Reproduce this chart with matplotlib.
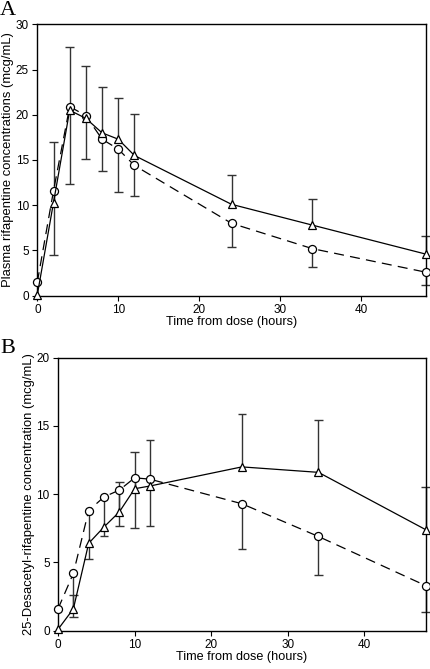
import numpy as np
import matplotlib
matplotlib.use('Agg')
import matplotlib.pyplot as plt

# Sampling times (hours)
times = [0, 2, 4, 6, 8, 10, 12, 24, 34, 48]

# Panel A: plasma rifapentine (mcg/mL)
rpt_tri = [0.1, 10.3, 20.5, 19.6, 18.0, 17.3, 15.5, 10.1, 7.8, 4.6]
rpt_tri_upper = [np.nan, 17.0, 27.5, 25.4, 23.1, 21.9, 20.1, 13.3, 10.7, 6.6]
rpt_circ = [1.5, 11.6, 20.9, 19.9, 17.3, 16.2, 14.4, 8.0, 5.2, 2.6]
rpt_circ_lower = [np.nan, 4.5, 12.4, 15.1, 13.8, 11.5, 11.0, 5.4, 3.2, 1.2]

# Panel B: 25-desacetyl-rifapentine (mcg/mL)
des_tri = [0.1, 1.6, 6.4, 7.6, 8.7, 10.4, 10.6, 12.0, 11.6, 7.4]
des_tri_upper = [np.nan, 2.6, np.nan, np.nan, 10.9, 13.1, 14.0, 15.9, 15.4, 10.5]
des_circ = [1.6, 4.2, 8.8, 9.8, 10.3, 11.2, 11.1, 9.3, 6.9, 3.3]
des_circ_lower = [np.nan, 1.0, 5.25, 6.9, 7.7, 7.5, 7.7, 6.0, 4.1, 1.4]

plt.rcParams['font.family'] = ['Liberation Sans', 'DejaVu Sans']

fig = plt.figure(figsize=(4.30, 6.69), dpi=100)
axA = fig.add_axes([0.0868, 0.558, 0.9032, 0.4057])
axB = fig.add_axes([0.135, 0.0573, 0.855, 0.408])

bar_color = '#333333'


def draw_bars(ax, x, y, ends):
    # one-sided error bars from each point to its end value
    x = np.array(x, dtype=float)
    y = np.array(y, dtype=float)
    ends = np.array(ends, dtype=float)
    ok = ~np.isnan(ends)
    ax.vlines(x[ok], y[ok], ends[ok], color=bar_color, lw=1.0, zorder=2, clip_on=False)
    ax.hlines(ends[ok], x[ok] - 0.55, x[ok] + 0.55, color=bar_color, lw=1.0, zorder=2, clip_on=False)


def draw_panel(ax, tri, tri_up, circ, circ_lo, ymax, ylabel):
    draw_bars(ax, times, tri, tri_up)
    draw_bars(ax, times, circ, circ_lo)
    ax.plot(times, circ, color='black', lw=0.9, dashes=(8, 5), marker='o',
            markersize=5.8, markerfacecolor='white', markeredgecolor='black',
            markeredgewidth=0.9, zorder=3, clip_on=False)
    ax.plot(times, tri, color='black', lw=0.9, marker='^',
            markersize=5.2, markerfacecolor='white', markeredgecolor='black',
            markeredgewidth=0.9, zorder=4, clip_on=False)
    ax.set_xlim(0, 48)
    ax.set_ylim(0, ymax)
    ax.set_xticks([0, 10, 20, 30, 40])
    ax.set_yticks(np.arange(0, ymax + 1, 5))
    ax.tick_params(direction='out', length=3.5, width=0.8, labelsize=8.5, pad=2.5)
    for s in ax.spines.values():
        s.set_linewidth(1.0)
    ax.set_xlabel('Time from dose (hours)', fontsize=9.1, labelpad=0)
    ax.set_ylabel(ylabel, fontsize=9.4, labelpad=1)


draw_panel(axA, rpt_tri, rpt_tri_upper, rpt_circ, rpt_circ_lower, 30,
           'Plasma rifapentine concentrations (mcg/mL)')
draw_panel(axB, des_tri, des_tri_upper, des_circ, des_circ_lower, 20,
           '25-Desacetyl-rifapentine concentration (mcg/mL)')

fig.text(0.0, 0.9985, 'A', fontsize=16, family='Liberation Serif', va='top', ha='left')
fig.text(0.0, 0.4935, 'B', fontsize=16, family='Liberation Serif', va='top', ha='left')

fig.savefig('out.png', dpi=100)
